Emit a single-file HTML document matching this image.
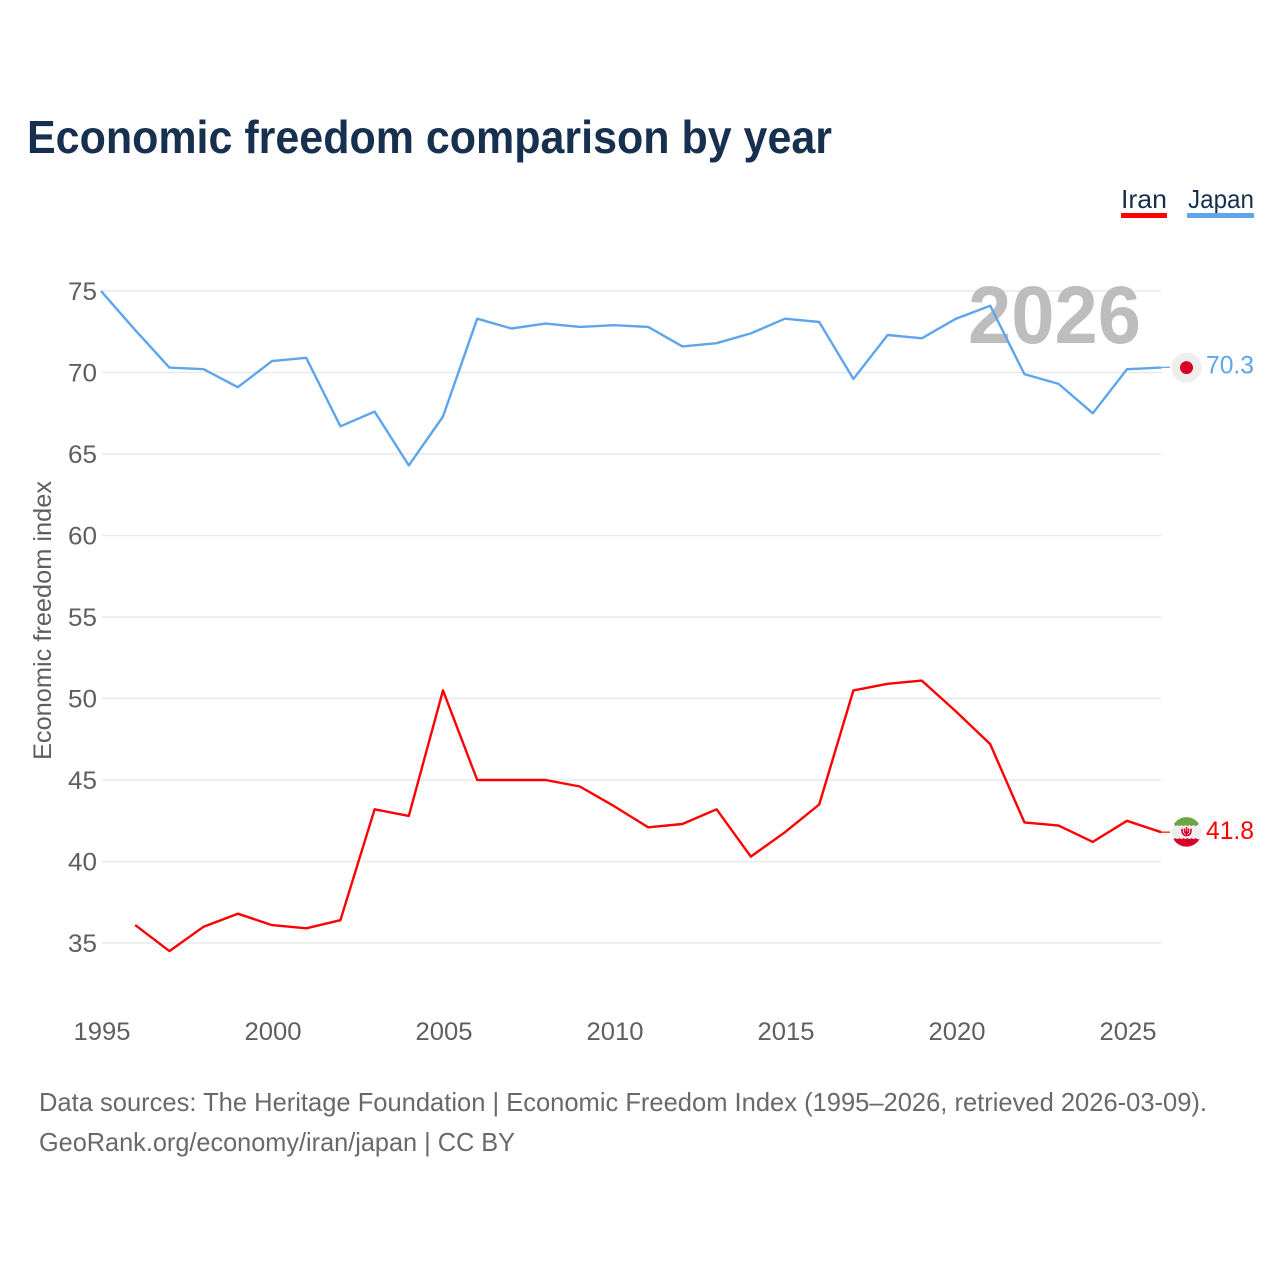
<!DOCTYPE html>
<html lang="en">
<head>
<meta charset="utf-8">
<title>Economic freedom comparison by year</title>
<style>
html,body{margin:0;padding:0;background:#fff;width:1280px;height:1280px;overflow:hidden}
svg{display:block}
text{font-family:"Liberation Sans",sans-serif}
</style>
</head>
<body>
<svg id="chart" width="1280" height="1280" viewBox="0 0 1280 1280" xmlns="http://www.w3.org/2000/svg">
  <rect width="1280" height="1280" fill="#fff"/>
  <text x="27" y="153" font-size="46" font-weight="700" fill="#18304f" textLength="805" lengthAdjust="spacingAndGlyphs">Economic freedom comparison by year</text>

  <g>
    <text x="1121" y="208" font-size="26" fill="#18304f" textLength="46" lengthAdjust="spacingAndGlyphs">Iran</text>
    <rect x="1121" y="213" width="46" height="5" fill="#ff0000"/>
  </g>
  <g>
    <text x="1188" y="208" font-size="26" fill="#18304f" textLength="66" lengthAdjust="spacingAndGlyphs">Japan</text>
    <rect x="1187" y="213" width="67" height="5" fill="#5ea5ec"/>
  </g>

  <g id="grid"></g>
  <g id="yticks"></g>
  <g id="xticks"></g>

  <text transform="translate(51,760) rotate(-90)" font-size="25" fill="#5f5f5f" textLength="279" lengthAdjust="spacingAndGlyphs">Economic freedom index</text>

  <text x="968" y="343" font-size="82" font-weight="700" fill="#bdbdbd" textLength="173" lengthAdjust="spacingAndGlyphs">2026</text>

  <g id="series"></g>

  <g id="end-markers"></g>

  <text x="39" y="1111" font-size="26" fill="#696969" textLength="1168" lengthAdjust="spacingAndGlyphs">Data sources: The Heritage Foundation | Economic Freedom Index (1995–2026, retrieved 2026-03-09).</text>
  <text x="39" y="1151" font-size="26" fill="#696969" textLength="476" lengthAdjust="spacingAndGlyphs">GeoRank.org/economy/iran/japan | CC BY</text>
</svg>
<script>
const years = [1995,1996,1997,1998,1999,2000,2001,2002,2003,2004,2005,2006,2007,2008,2009,2010,2011,2012,2013,2014,2015,2016,2017,2018,2019,2020,2021,2022,2023,2024,2025,2026];
const japanValues = [75.0,72.6,70.3,70.2,69.1,70.7,70.9,66.7,67.6,64.3,67.3,73.3,72.7,73.0,72.8,72.9,72.8,71.6,71.8,72.4,73.3,73.1,69.6,72.3,72.1,73.3,74.1,69.9,69.3,67.5,70.2,70.3];
const iranValues = [null,36.1,34.5,36.0,36.8,36.1,35.9,36.4,43.2,42.8,50.5,45.0,45.0,45.0,44.6,43.4,42.1,42.3,43.2,40.3,41.8,43.5,50.5,50.9,51.1,49.2,47.2,42.4,42.2,41.2,42.5,41.8];
const yTickValues = [35,40,45,50,55,60,65,70,75];
const xTickValues = [1995,2000,2005,2010,2015,2020,2025];

const NS = 'http://www.w3.org/2000/svg';
function xScale(year){ return 101 + (year - 1995) * 34.2; }
function yScale(value){ return 291 + (75 - value) * 16.3; }
function make(tag, attrs, parent, text){
  const el = document.createElementNS(NS, tag);
  for (const k in attrs) el.setAttribute(k, attrs[k]);
  if (text !== undefined) el.textContent = text;
  parent.appendChild(el);
  return el;
}
const grid = document.getElementById('grid');
const yticks = document.getElementById('yticks');
const xticks = document.getElementById('xticks');
const series = document.getElementById('series');
const markers = document.getElementById('end-markers');

yTickValues.forEach(function(v){
  const line = make('line', {x1:xScale(1995)+1, x2:xScale(2026), y1:yScale(v), y2:yScale(v), stroke:'#e9e9e9', 'stroke-width':1.5}, grid);
  
  
  const label = make('text', {x:97, y:yScale(v)+9, 'text-anchor':'end', 'font-size':25, fill:'#5f5f5f', textLength:29, lengthAdjust:'spacingAndGlyphs'}, yticks, String(v));
  
  
});
xTickValues.forEach(function(y){
  const label = make('text', {x:xScale(y)+1, y:1040, 'text-anchor':'middle', 'font-size':25, fill:'#5f5f5f', textLength:57, lengthAdjust:'spacingAndGlyphs'}, xticks, String(y));
  
  
});
function linePath(values){
  let d = '';
  values.forEach(function(v, i){
    if (v === null) return;
    d += (d ? 'L' : 'M') + xScale(years[i]).toFixed(1) + ' ' + yScale(v).toFixed(1);
  });
  return d;
}
const iranLine = make('path', {d:linePath(iranValues), fill:'none', stroke:'#ff0000', 'stroke-width':2.4, 'stroke-linejoin':'round'}, series);


const japanLine = make('path', {d:linePath(japanValues), fill:'none', stroke:'#5ea5ec', 'stroke-width':2.4, 'stroke-linejoin':'round'}, series);



/* Japan end marker */
const jv = japanValues[japanValues.length-1];
const jy = yScale(jv);
const jx = xScale(2026);
const jConn = make('line', {x1:jx, x2:1170, y1:jy, y2:jy-0.5, stroke:'#5ea5ec', 'stroke-width':1.2}, markers);


const jFlag = make('g', {transform:'translate(1186.5,' + jy + ')'}, markers);


make('circle', {r:15, fill:'#eeeeee'}, jFlag);
make('circle', {r:6.5, fill:'#d80027'}, jFlag);
const jLabel = make('text', {x:1206, y:jy+6, 'font-size':25, fill:'#5ea5ec', textLength:48, lengthAdjust:'spacingAndGlyphs'}, markers, jv.toFixed(1));



/* Iran end marker */
const iv = iranValues[iranValues.length-1];
const iy = yScale(iv);
const iConn = make('line', {x1:jx, x2:1170, y1:iy, y2:iy, stroke:'#ff0000', 'stroke-width':1.2}, markers);


const iFlag = make('g', {transform:'translate(1186.5,' + iy + ')'}, markers);


make('circle', {r:15, fill:'#eeeeee'}, iFlag);
make('path', {d:'M-12.5 -8.3 A15 15 0 0 1 12.5 -8.3 L11 -7 L9 -6 L7 -7 L5 -6 L3 -7 L1 -6 L-1 -7 L-3 -6 L-5 -7 L-7 -6 L-9 -7 L-11 -6 Z', fill:'#6da544'}, iFlag);
make('path', {d:'M-13 7 A15 15 0 0 0 13 7 L11 7 L9 6 L7 7 L5 6 L3 7 L1 6 L-1 7 L-3 6 L-5 7 L-7 6 L-9 7 L-11 6 Z', fill:'#d80027'}, iFlag);
make('path', {d:'M-4.5 -3.5 Q-5 3 0 3.5 Q5 3 4.5 -3.5 M0 -5 V3.5 M-2 -3.5 Q-2.5 1 0 1.2 Q2.5 1 2 -3.5', fill:'none', stroke:'#d80027', 'stroke-width':1.5}, iFlag);
const iLabel = make('text', {x:1206, y:iy+7, 'font-size':25, fill:'#ff0000', textLength:48, lengthAdjust:'spacingAndGlyphs'}, markers, iv.toFixed(1));


</script>
</body>
</html>
